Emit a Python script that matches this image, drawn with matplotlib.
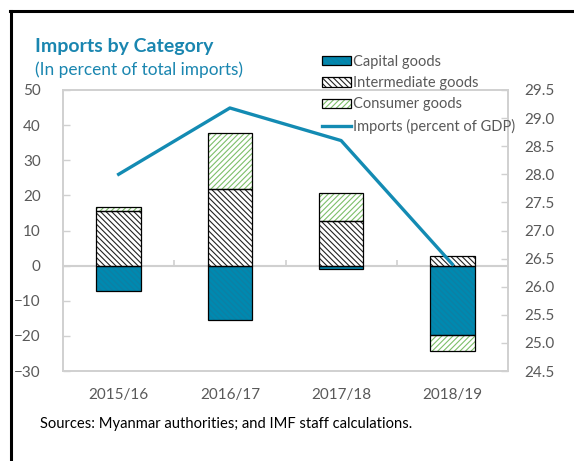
import matplotlib
matplotlib.use("Agg")
import matplotlib.pyplot as plt
import numpy as np
from matplotlib.patches import Patch
from matplotlib.lines import Line2D
from matplotlib.legend_handler import HandlerTuple

years = ["2015/16", "2016/17", "2017/18", "2018/19"]
capital = [-7.2, -15.6, -1.1, -19.7]
intermediate = [15.6, 21.8, 12.8, 2.8]
consumer = [1.2, 16.0, 7.9, -4.5]
imports_gdp = [28.0, 29.18, 28.6, 26.4]

TEAL = "#0089b0"
LINE = "#138bb3"
GREEN = "#7dbf6a"
GRAY = "#595959"
SPINE = "#d0d0d0"

HATCH_CAP = "\\" * 6
HATCH_INT = "\\" * 6
HATCH_CON = "/" * 6

plt.rcParams["font.family"] = ["Lato", "DejaVu Sans"]
plt.rcParams["hatch.linewidth"] = 0.8

fig = plt.figure(figsize=(5.74, 4.61), dpi=100)
ax = fig.add_axes([0.1098, 0.1952, 0.7752, 0.6096])

x = np.arange(len(years))
w = 0.4

# positive parts stack upward from 0, negative parts stack downward
pos_base = np.zeros(len(years))
neg_base = np.zeros(len(years))


def stacked(vals, fc, hatch, hc):
    global pos_base, neg_base
    vals = np.array(vals)
    bottoms = np.where(vals >= 0, pos_base, neg_base)
    # fill + hatch (hatch colour comes from edgecolor)
    ax.bar(x, vals, w, bottom=bottoms, color=fc, edgecolor=hc,
           hatch=hatch, linewidth=0, zorder=2)
    # black outline
    ax.bar(x, vals, w, bottom=bottoms, fill=False, edgecolor="black",
           linewidth=0.9, zorder=3)
    pos_base = pos_base + np.where(vals >= 0, vals, 0)
    neg_base = neg_base + np.where(vals < 0, vals, 0)


stacked(capital, TEAL, HATCH_CAP, "#0f7fa3")
stacked(intermediate, "white", HATCH_INT, "#222222")
stacked(consumer, "white", HATCH_CON, GREEN)

ax.axhline(0, color=SPINE, lw=1.5, zorder=1)
# category separator ticks on zero line
ax.vlines(x[:-1] + 0.5, 0, 1.7, color=SPINE, lw=1.2, zorder=1)

ax.set_xlim(-0.5, len(years) - 0.5)
ax.set_ylim(-30, 50)
ax.set_yticks(np.arange(-30, 51, 10))
ax.set_xticks(x)
ax.set_xticklabels(years)
ax.tick_params(axis="x", length=0, pad=12, labelsize=11, labelcolor=GRAY)
ax.tick_params(axis="y", direction="in", length=5, color=SPINE, width=1,
               labelsize=11, labelcolor=GRAY, pad=16)
for s in ax.spines.values():
    s.set_color(SPINE)
    s.set_linewidth(1.2)

ax2 = ax.twinx()
ax2.plot(x, imports_gdp, color=LINE, lw=2.4, zorder=4)
ax2.set_ylim(24.5, 29.5)
ax2.set_yticks(np.arange(24.5, 29.6, 0.5))
ax2.set_yticklabels([f"{v:.1f}" for v in np.arange(24.5, 29.6, 0.5)])
ax2.tick_params(axis="y", direction="in", length=5, color=SPINE, width=1,
                labelsize=11, labelcolor=GRAY, pad=12)
for s in ax2.spines.values():
    s.set_color(SPINE)
    s.set_linewidth(1.2)

h_cap = (Patch(facecolor=TEAL, edgecolor="#0f7fa3", hatch=HATCH_CAP, lw=0),
         Patch(fill=False, edgecolor="black", lw=0.9))
h_int = (Patch(facecolor="white", edgecolor="#222222", hatch=HATCH_INT, lw=0),
         Patch(fill=False, edgecolor="black", lw=0.9))
h_con = (Patch(facecolor="white", edgecolor=GREEN, hatch=HATCH_CON, lw=0),
         Patch(fill=False, edgecolor="black", lw=0.9))
h_line = Line2D([], [], color=LINE, lw=2.4)
fig.legend([h_cap, h_int, h_con, h_line],
           ["Capital goods", "Intermediate goods", "Consumer goods",
            "Imports (percent of GDP)"],
           handler_map={tuple: HandlerTuple(ndivide=1, pad=0)},
           loc="upper left", bbox_to_anchor=(0.548, 0.897), frameon=False,
           borderpad=0, handlelength=2.0, handleheight=0.6,
           handletextpad=0.15, labelspacing=0.5, fontsize=10.5,
           labelcolor=GRAY)

fig.text(0.061, 0.887, "Imports by Category", color="#1a86b0",
         fontsize=14, fontweight="bold", va="baseline")
fig.text(0.061, 0.837, "(In percent of total imports)", color="#1a86b0",
         fontsize=12.4, va="baseline")
fig.text(0.07, 0.072, "Sources: Myanmar authorities; and IMF staff calculations.",
         color="black", fontsize=10.6, va="baseline")

# outer frame (left and top edges)
fig.add_artist(Line2D([0.019, 0.019], [0, 0.977], color="black", lw=2.2,
                      transform=fig.transFigure))
fig.add_artist(Line2D([0.018, 1.0], [0.977, 0.977], color="black", lw=2.2,
                      transform=fig.transFigure))

fig.savefig("out.png", dpi=100)
